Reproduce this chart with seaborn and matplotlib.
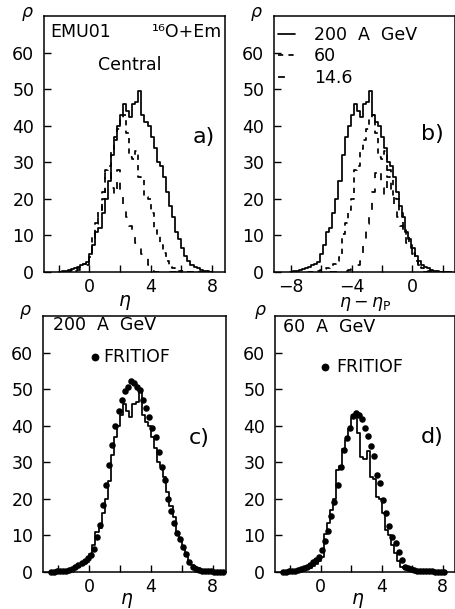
import numpy as np
import pandas as pd
import matplotlib
matplotlib.use("Agg")
import matplotlib.pyplot as plt
from matplotlib.lines import Line2D
import seaborn as sns

# ---- data -------------------------------------------------------------
# pseudorapidity bins (width 0.2) for the measured distributions
eta_edges = np.round(np.arange(-2.0, 8.01, 0.2), 1)
eta_centers = eta_edges[:-1] + 0.1

rho_200 = [0.1, 0.2, 0.3, 0.5, 0.8, 1.0, 1.3, 1.8, 2.2, 2.8,
           5.0, 7.5, 11.0, 12.0, 16.0, 20.0, 25.0, 32.0, 37.0, 40.0,
           43.0, 46.0, 44.0, 42.5, 46.0, 46.5, 49.5, 43.0, 41.0, 40.0,
           37.0, 34.0, 30.0, 29.0, 26.0, 22.0, 18.0, 15.0, 11.0, 9.0,
           6.5, 4.5, 3.0, 2.0, 1.5, 1.0, 0.6, 0.3, 0.2, 0.1]

rho_60 = [0.1, 0.1, 0.2, 0.3, 0.5, 0.8, 1.2, 1.6, 2.2, 3.0,
          4.0, 10.5, 13.5, 17.0, 20.0, 28.0, 29.0, 33.5, 36.0, 39.0,
          42.0, 43.0, 38.0, 31.5, 31.0, 33.0, 26.0, 25.5, 20.5, 20.0,
          16.0, 11.5, 10.0, 7.5, 5.2, 3.0, 1.5, 1.0, 0.6, 0.4,
          0.2, 0.1, 0.1, 0.0, 0.0, 0.0, 0.0, 0.0, 0.0, 0.0]

rho_14 = [0.0, 0.0, 0.0, 0.1, 0.1, 0.3, 0.5, 0.8, 1.2, 1.8,
          3.0, 8.0, 13.0, 17.0, 22.0, 27.0, 28.0, 23.0, 21.0, 28.0,
          21.5, 17.0, 15.0, 12.5, 11.0, 8.0, 6.5, 5.0, 4.5, 2.0,
          0.3, 0.1, 0.0, 0.0, 0.0, 0.0, 0.0, 0.0, 0.0, 0.0,
          0.0, 0.0, 0.0, 0.0, 0.0, 0.0, 0.0, 0.0, 0.0, 0.0]

energies = ["200  A  GeV", "60", "14.6"]
eta_beam = [6.06, 4.85, 3.44]          # projectile rapidity per energy

# FRITIOF model points
frit200_eta = np.round(np.arange(-2.5, 8.71, 0.2), 1)
frit200_rho = [0.1, 0.1, 0.2, 0.2, 0.3, 0.4, 0.6, 0.9, 1.3, 1.8,
               2.4, 3.0, 3.8, 4.7, 6.4, 9.5, 12.9, 18.2, 23.7, 29.2,
               34.8, 40.0, 44.1, 46.9, 49.4, 50.6, 52.3, 51.7, 50.6, 49.9,
               47.0, 44.8, 42.4, 39.5, 37.0, 32.7, 28.8, 25.1, 19.9, 16.7,
               13.5, 10.6, 8.9, 6.9, 4.9, 2.8, 1.5, 0.9, 0.6, 0.4,
               0.3, 0.2, 0.2, 0.1, 0.1, 0.1, 0.1]

frit60_eta = np.round(np.arange(-2.5, 8.11, 0.2), 1)
frit60_rho = [0.1, 0.1, 0.2, 0.2, 0.3, 0.5, 0.7, 1.0, 1.4, 2.0,
              2.7, 3.3, 4.2, 6.0, 8.5, 11.3, 15.2, 19.2, 23.8, 28.8,
              33.4, 36.6, 39.4, 42.6, 43.5, 43.0, 41.7, 39.4, 37.1, 34.4,
              31.8, 26.6, 24.4, 19.6, 16.2, 12.5, 9.6, 7.9, 5.6, 3.3,
              1.5, 1.0, 0.7, 0.5, 0.4, 0.3, 0.3, 0.2, 0.2, 0.2,
              0.1, 0.1, 0.1, 0.1]

# ---- styling ----------------------------------------------------------
sns.set_style("ticks")
plt.rcParams["font.family"] = ["DejaVu Sans"]
plt.rcParams["mathtext.fontset"] = "dejavusans"
plt.rcParams["text.color"] = "black"
plt.rcParams["axes.labelcolor"] = "black"

W, H = 456, 609
fig = plt.figure(figsize=(W / 100, H / 100), dpi=100)
fig.patch.set_facecolor("white")

FS = 12.5
styles = ["-", (0, (3, 3)), (0, (4, 6))]
LW = 1.25


def px_axes(left, right, top, bottom):
    return fig.add_axes([left / W, 1 - bottom / H, (right - left) / W, (bottom - top) / H])


def ftext(x, y, s, size=FS, ha="left", va="center", **kw):
    fig.text(x / W, 1 - y / H, s, fontsize=size, ha=ha, va=va, color="black", **kw)


def frame(ax, xlim, ticks, labels):
    ax.set_xlim(*xlim)
    ax.set_ylim(0, 70)
    ax.set_xticks(ticks)
    ax.set_xticklabels(labels)
    ax.set_yticks(range(0, 61, 10))
    ax.tick_params(direction="in", length=5, width=1.0, labelsize=FS,
                   color="black", labelcolor="black")
    ax.tick_params(axis="y", pad=7)
    ax.tick_params(axis="x", pad=4)
    for sp in ax.spines.values():
        sp.set_visible(True)
        sp.set_linewidth(1.1)
        sp.set_color("black")
    ax.set_facecolor("white")
    ax.set_ylabel("")
    ax.set_xlabel("")


def hist(ax, heights, shift, ls):
    df = pd.DataFrame({"eta": eta_centers - shift, "rho": heights})
    n0 = len(ax.lines)
    sns.histplot(data=df, x="eta", weights="rho", bins=list(eta_edges - shift),
                 element="step", fill=False, color="black", linewidth=LW, ax=ax)
    for ln in ax.lines[n0:]:
        ln.set_linestyle(ls)


series = [rho_200, rho_60, rho_14]

# a) distributions in eta
ax_a = px_axes(44, 225, 16, 272)
for rho, ls in zip(series, styles):
    hist(ax_a, rho, 0.0, ls)
frame(ax_a, (-2.95, 8.85), [-2, 0, 2, 4, 6, 8], ["", "0", "", "4", "", "8"])

# b) distributions in eta - eta_P
ax_b = px_axes(274, 455, 16, 272)
for rho, ls, ep in zip(series, styles, eta_beam):
    hist(ax_b, rho, ep, ls)
frame(ax_b, (-9.1, 2.8), [-8, -6, -4, -2, 0, 2], ["−8", "", "−4", "", "0", ""])
handles = [Line2D([], [], color="black", lw=LW, linestyle=ls) for ls in styles]
leg = ax_b.legend(handles, energies, loc="upper left", bbox_to_anchor=(-0.038, 1.003),
                  frameon=False, fontsize=FS, handlelength=1.0, handletextpad=1.1,
                  labelspacing=0.2, borderaxespad=0.2)
for t in leg.get_texts():
    t.set_color("black")

# c) 200 A GeV vs FRITIOF
ax_c = px_axes(43, 226.5, 316, 572)
hist(ax_c, rho_200, 0.0, "-")
sns.scatterplot(x=frit200_eta, y=frit200_rho, color="black", s=22,
                linewidth=0, ax=ax_c, clip_on=False, zorder=3)
frame(ax_c, (-3.0, 8.9), [-2, 0, 2, 4, 6, 8], ["", "0", "", "4", "", "8"])

# d) 60 A GeV vs FRITIOF
ax_d = px_axes(275, 455, 316, 572)
hist(ax_d, rho_60, 0.0, "-")
sns.scatterplot(x=frit60_eta, y=frit60_rho, color="black", s=22,
                linewidth=0, ax=ax_d, clip_on=False, zorder=3)
frame(ax_d, (-3.0, 8.8), [-2, 0, 2, 4, 6, 8], ["", "0", "", "4", "", "8"])

# ---- annotations -----------------------------------------------------
for x, y in [(27, 14), (256, 14), (25, 312), (260, 312)]:
    ftext(x, y, r"$\rho$", size=FS, ha="center")

ftext(125, 302, r"$\eta$", size=FS + 1, ha="center")
ftext(365, 304, r"$\eta-\eta_{\rm P}$", size=FS, ha="center")
ftext(127, 600, r"$\eta$", size=FS + 1, ha="center")
ftext(358, 600, r"$\eta$", size=FS + 1, ha="center")

ftext(50, 32, "EMU01")
ftext(222, 32, "¹⁶O+Em", ha="right")
ftext(130, 65, "Central", ha="center")
ftext(204, 137, "a)", size=16, ha="center")
ftext(432, 134, "b)", size=16, ha="center")

ftext(53, 325, "200  A  GeV")
ftext(103, 357, "FRITIOF")
ftext(199, 438, "c)", size=16, ha="center")
ftext(283, 327, "60  A  GeV")
ftext(336, 367, "FRITIOF")
ftext(432, 437, "d)", size=16, ha="center")

for x, y in [(95, 357), (325, 367)]:
    fig.add_artist(Line2D([x / W], [1 - y / H], marker="o", markersize=4.6,
                          color="black", linestyle="none"))

fig.savefig("out.png", dpi=100, facecolor="white")
